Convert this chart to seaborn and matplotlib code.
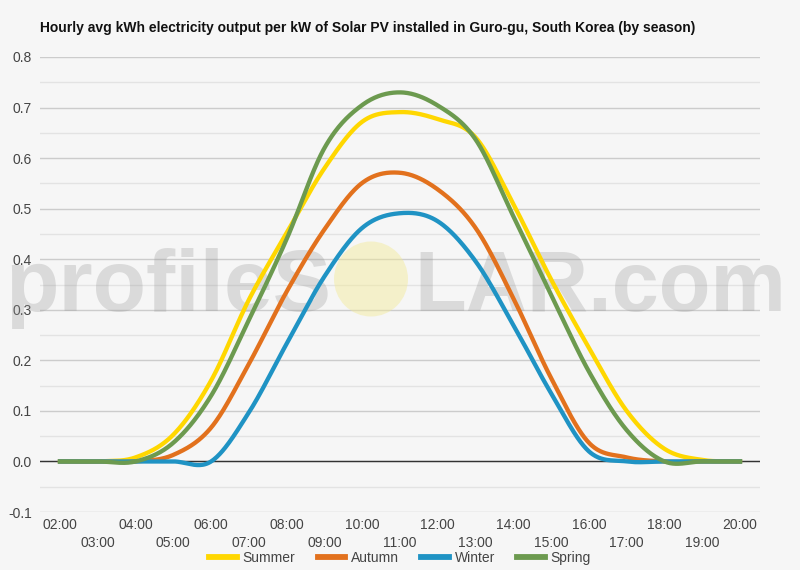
import numpy as np
import pandas as pd
import matplotlib
matplotlib.use("Agg")
import matplotlib.pyplot as plt
import seaborn as sns
from matplotlib.patches import Ellipse
from matplotlib.lines import Line2D
from matplotlib.ticker import FixedLocator, FormatStrFormatter

# ---------------- data ----------------
hours = ["02:00", "03:00", "04:00", "05:00", "06:00", "07:00", "08:00", "09:00",
         "10:00", "11:00", "12:00", "13:00", "14:00", "15:00", "16:00", "17:00",
         "18:00", "19:00", "20:00"]
summer = [0.0, 0.0, 0.008, 0.053, 0.16, 0.32, 0.452, 0.58, 0.672, 0.691, 0.677,
          0.641, 0.509, 0.36, 0.225, 0.10, 0.025, 0.003, 0.0]
autumn = [0.0, 0.0, 0.0, 0.013, 0.067, 0.193, 0.336, 0.459, 0.551, 0.571, 0.538,
          0.462, 0.323, 0.165, 0.037, 0.008, 0.0, 0.0, 0.0]
winter = [0.0, 0.0, 0.0, 0.0, 0.0, 0.097, 0.233, 0.366, 0.462, 0.491, 0.475,
          0.396, 0.27, 0.135, 0.02, 0.0, 0.0, 0.0, 0.0]
spring = [0.0, 0.0, 0.0, 0.037, 0.13, 0.28, 0.44, 0.62, 0.705, 0.730, 0.704,
          0.637, 0.485, 0.33, 0.178, 0.062, 0.0, 0.0, 0.0]
season_names = ["Summer", "Autumn", "Winter", "Spring"]
season_values = [summer, autumn, winter, spring]
season_colors = ["#FFD700", "#E2711D", "#1F93C4", "#6C9A4F"]
title = ("Hourly avg kWh electricity output per kW of Solar PV installed in "
         "Guro-gu, South Korea (by season)")


def smooth(vals, n=40):
    """Cardinal (Catmull-Rom) curve through the hourly points, for drawing."""
    y = np.asarray(vals, float)
    m = np.empty_like(y)
    m[1:-1] = (y[2:] - y[:-2]) / 2.0
    m[0] = y[1] - y[0]
    m[-1] = y[-1] - y[-2]
    xs, ys = [], []
    t = np.linspace(0, 1, n, endpoint=False)
    h00 = 2 * t**3 - 3 * t**2 + 1
    h10 = t**3 - 2 * t**2 + t
    h01 = -2 * t**3 + 3 * t**2
    h11 = t**3 - t**2
    for i in range(len(y) - 1):
        xs.append(i + t)
        ys.append(h00 * y[i] + h10 * m[i] + h01 * y[i + 1] + h11 * m[i + 1])
    xs.append(np.array([len(y) - 1.0]))
    ys.append(np.array([y[-1]]))
    return np.concatenate(xs), np.concatenate(ys)


frames = []
for name, vals in zip(season_names, season_values):
    sx, sy = smooth(vals)
    frames.append(pd.DataFrame({"x": sx, "y": sy, "season": name}))
df = pd.concat(frames, ignore_index=True)

# ---------------- figure ----------------
BG = "#f6f6f6"
plt.rcParams["font.family"] = ["Liberation Sans", "DejaVu Sans"]
fig = plt.figure(figsize=(8, 5.7), dpi=100, facecolor=BG)
ax = fig.add_axes([40 / 800, 1 - 512 / 570, 720 / 800, (512 - 57) / 570])
ax.set_facecolor(BG)

# watermark
wm_col = "#9a9a9a"
ax.text(331 / 800, 1 - 311 / 570, "profileS", transform=fig.transFigure,
        ha="right", va="baseline", fontsize=63, fontweight="bold",
        color=wm_col, alpha=0.30, clip_on=False, zorder=1)
ax.text(414 / 800, 1 - 311 / 570, "LAR.com", transform=fig.transFigure,
        ha="left", va="baseline", fontsize=61, fontweight="bold",
        color=wm_col, alpha=0.30, clip_on=False, zorder=1)
sun = Ellipse((371 / 800, 1 - 279 / 570), 74 / 800, 75 / 570,
              transform=fig.transFigure, facecolor="#f3ea95", alpha=0.45,
              edgecolor="none", zorder=1)
ax.add_artist(sun)
sun.set_clip_on(False)

sns.lineplot(data=df, x="x", y="y", hue="season", hue_order=season_names,
             palette=season_colors, sort=False, estimator=None, lw=3.1,
             legend=False, ax=ax, zorder=3)

ax.axhline(0, color="#333333", lw=1, zorder=2)

ax.set_xlim(-20 / 37.72, 18 + 20 / 37.72)
ax.set_ylim(-0.1, 0.8)
ax.set_yticks(np.round(np.arange(-0.1, 0.81, 0.1), 2))
ax.yaxis.set_minor_locator(FixedLocator(np.round(np.arange(-0.05, 0.8, 0.1), 3)))
ax.yaxis.set_major_formatter(FormatStrFormatter("%.1f"))
ax.set_axisbelow(True)
ax.grid(axis="y", which="major", color="#cccccc", lw=1)
ax.grid(axis="y", which="minor", color="#e3e3e3", lw=1)
ax.grid(axis="x", visible=False)

idx = np.arange(len(hours))
ax.set_xticks(idx[::2])
ax.set_xticklabels(hours[::2])
ax.set_xticks(idx[1::2], minor=True)
ax.set_xticklabels(hours[1::2], minor=True)
ax.tick_params(axis="x", which="major", length=0, pad=4, labelsize=10,
               labelcolor="#444444")
ax.tick_params(axis="x", which="minor", length=0, pad=17.5, labelsize=10,
               labelcolor="#444444")
ax.tick_params(axis="y", which="both", length=0, pad=6, labelsize=10,
               labelcolor="#444444")
ax.set_xlabel("")
ax.set_ylabel("")
for s in ax.spines.values():
    s.set_visible(False)

fig.text(40 / 800, 1 - 28 / 570, title, ha="left", va="center",
         fontsize=10, fontweight="bold", color="#111111")

handles = [Line2D([0], [0], color=c, lw=4.2) for c in season_colors]
fig.legend(handles, season_names, loc="center",
           bbox_to_anchor=(0.5, 1 - 558 / 570), ncol=4, frameon=False,
           fontsize=10, handlelength=2.0, handletextpad=0.4,
           columnspacing=1.6, labelcolor="#444444")

fig.savefig("out.png", dpi=100, facecolor=BG)
